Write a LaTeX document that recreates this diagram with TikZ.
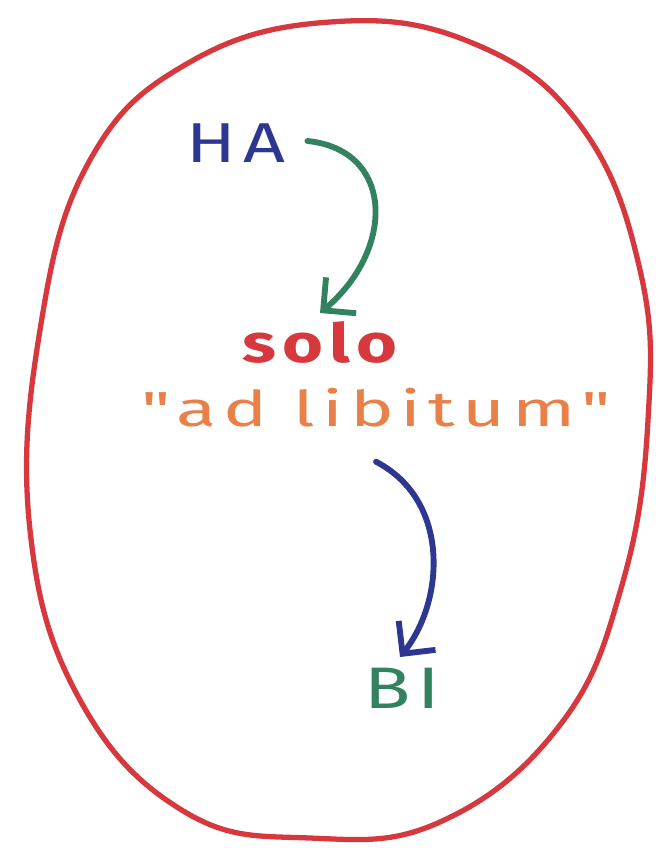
\documentclass[tikz,border=0pt]{standalone}
\usepackage{fontspec}
\setmainfont{Fira Sans}
\newfontfamily\handfont[FakeStretch=1.3, LetterSpace=12]{Fira Sans}
\newfontfamily\handwide[FakeStretch=1.5, LetterSpace=14]{Fira Sans}
\usetikzlibrary{arrows.meta}
\definecolor{penred}{RGB}{214,56,62}
\definecolor{penblue}{RGB}{45,55,145}
\definecolor{pengreen}{RGB}{50,130,95}
\definecolor{penorange}{RGB}{232,128,72}
\tikzset{
  word/.style={inner sep=0pt},
  penarrow/.style={line width=5pt, line cap=round, line join=round,
    -{Straight Barb[length=20pt,width=40pt]}}
}
\begin{document}
\begin{tikzpicture}[x=0.03cm,y=-0.03cm]
\useasboundingbox (0,0) rectangle (656,848);
% outline
\draw[penred, line width=4.5pt] plot[smooth cycle, tension=0.7] coordinates {
  (330,22) (470,42) (580,125) (640,270) (648,420) (622,585) (560,725)
  (440,822) (310,838) (185,812) (80,700) (30,530) (40,330) (90,160) (190,62)};
% words
\node[word, text=penblue, font=\handfont\fontsize{48}{52}\selectfont] (ha) at (236,143) {HA};
\node[word, text=penred, font=\handfont\bfseries\fontsize{46}{50}\selectfont] (solo) at (320,343) {solo};
\node[word, text=penorange, font=\handwide\fontsize{42}{46}\selectfont] (adlib) at (376,408) {"ad libitum"};
\node[word, text=pengreen, font=\handfont\fontsize{50}{54}\selectfont] (bi) at (402,688) {BI};
% arrows
\draw[penarrow, pengreen] (ha.east) ++(22,-2) .. controls (395,150) and (395,250) .. (320,313);
\draw[penarrow, penblue] (adlib.south) ++(0,34) .. controls (450,500) and (445,600) .. (400,657);
\end{tikzpicture}
\end{document}
